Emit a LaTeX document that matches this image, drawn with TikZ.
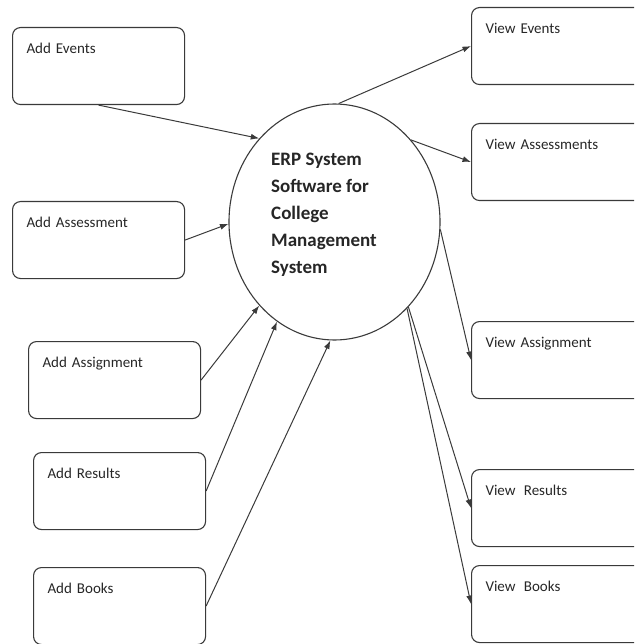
\documentclass[tikz,border=0pt]{standalone}
\usepackage{fontspec}
\setmainfont{Carlito}
\usetikzlibrary{shapes.geometric,arrows.meta}
\definecolor{linec}{HTML}{3A3A3A}
\definecolor{txtc}{HTML}{262626}
\begin{document}
\begin{tikzpicture}[x=1pt,y=-1pt,
  box/.style={draw=linec, line width=1.1pt, rounded corners=8pt, anchor=north west,
    align=left, inner xsep=14pt, inner ysep=0pt, text width=#1, text height=26pt,
    text depth=51pt, font=\fontsize{15}{18}\selectfont, text=txtc},
  box/.default=144pt,
  arr/.style={draw=linec, line width=1pt, -{Latex[length=8.5pt,width=6pt]}},
  hub/.style={draw=linec, line width=1.1pt, ellipse, minimum width=211pt,
    minimum height=236pt, inner sep=0pt}]
\useasboundingbox (0,0) rectangle (634,644);
\clip (0,0) rectangle (634,644);
% central process
\node[hub] (erp) at (334.5,222) {};
\node[anchor=north west, inner sep=0pt, align=left, text=txtc,
  font=\fontsize{19}{27}\selectfont\bfseries] (erptext) at (271,152.5)
  {ERP System\\Software for\\College\\Management\\System};
% left boxes
\node[box] (ae) at (12,27) {Add Events};
\node[box] (aas) at (12,201) {Add Assessment};
\node[box] (asg) at (28,341) {Add Assignment};
\node[box] (ar) at (33,452) {Add Results};
\node[box] (ab) at (33,567) {Add Books};
% right boxes
\node[box=160pt] (ve) at (471,7) {View Events};
\node[box=160pt] (vas) at (471,123) {View Assessments};
\node[box=160pt] (vag) at (471,321) {View Assignment};
\node[box=160pt] (vr) at (471,469) {View\hspace{0.55em}Results};
\node[box=160pt] (vb) at (471,565) {View\hspace{0.55em}Books};
% incoming
\draw[arr] (ae.south) -- (erp.132.7);
\draw[arr] (aas.east) -- (erp.181);
\draw[arr] (asg.east) -- (erp.228.7);
\draw[arr] (ar.east) -- (erp.240.2);
\draw[arr] (ab.east) -- (erp.268.8);
% outgoing
\draw[arr] (erp.88.8) -- (ve.west);
\draw[arr] (erp.47.4) -- (vas.west);
\draw[arr] (erp.356.2) -- (vag.west);
\draw[arr] (erp.311.8) -- (vr.west);
\draw[arr] (erp.310.6) -- (vb.west);
\end{tikzpicture}
\end{document}
